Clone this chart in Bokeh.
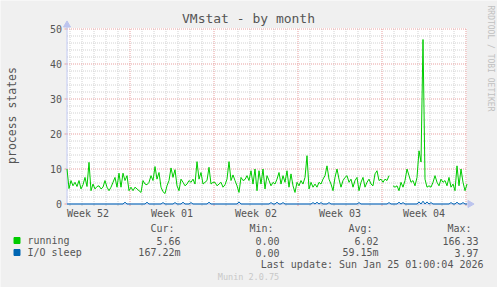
import math
from bokeh.plotting import figure
from bokeh.models import Range1d, BoxAnnotation, ColumnDataSource
from bokeh.core.properties import value
from bokeh.embed import file_html
from bokeh.resources import INLINE

# ---- data (sampled every 4 hours, days since Mon 22 Dec 2025) ----
start_day = 1.75
step_day = 1.0 / 6.0
running = [
    10.0, 4.4, 6.7, 5.2, 6.2, 5.0, 6.7, 4.3, 5.5, 7.6,
    5.0, 11.9, 3.8, 5.7, 4.3, 5.0, 5.2, 4.3, 4.8, 6.7,
    4.8, 3.8, 4.8, 6.2, 7.6, 4.8, 8.8, 4.8, 8.8, 6.7,
    8.1, 3.8, 4.8, 3.8, 4.8, 4.3, 3.8, 3.3, 6.7, 5.7,
    5.5, 6.2, 8.1, 6.7, 10.7, 7.1, 9.0, 4.8, 3.5, 3.0,
    5.2, 6.7, 10.3, 7.6, 9.8, 5.2, 3.8, 7.1, 6.2, 5.2,
    5.7, 6.7, 6.2, 7.1, 5.7, 12.1, 7.1, 9.0, 5.7, 6.2,
    6.7, 10.5, 5.7, 6.2, 6.2, 5.2, 5.7, 6.2, 4.8, 5.5,
    7.1, 12.1, 6.7, 8.3, 6.7, 5.2, 3.3, 7.6, 6.7, 7.0,
    8.1, 6.7, 9.5, 5.7, 10.0, 3.8, 9.5, 5.7, 10.0, 4.3,
    8.1, 6.7, 5.2, 6.2, 5.7, 7.1, 9.0, 5.7, 8.1, 6.2,
    9.5, 4.8, 8.6, 5.2, 3.3, 6.2, 5.2, 6.7, 5.7, 7.6,
    13.8, 4.3, 6.2, 4.8, 5.7, 4.8, 6.2, 5.7, 7.1, 8.1,
    10.9, 7.1, 5.7, 3.8, 7.6, 10.0, 7.1, 4.8, 6.7, 7.6,
    8.1, 6.2, 7.1, 4.8, 6.7, 7.6, 3.8, 6.2, 7.6, 4.8,
    6.2, 7.1, 5.7, 5.2, 8.6, 9.5, 6.7, 7.1, 6.2, 7.1,
    6.7, 8.1, float("nan"), 5.2, 4.8, 5.2, 3.8, 6.2, 4.8, 6.7,
    10.0, 8.1, 6.2, 6.7, 5.2, 7.6, 15.2, 12.0, 47.0, 7.1,
    4.8, 5.2, 4.8, 6.2, 8.1, 6.2, 5.2, 7.1, 6.2, 6.7,
    5.2, 7.6, 4.8, 5.7, 3.8, 10.9, 5.2, 10.0, 6.2, 3.8,
    5.7,
]
io_sleep = [
    0, 0, 0, 0, 0, 0, 0, 0, 0, 0,
    0, 0, 0, 0, 0, 0, 0, 0, 0, 0,
    0, 0, 0, 0, 0, 0, 0, 0, 0, 0.5,
    0, 0, 0, 0, 0, 0, 0, 0, 0, 0,
    0.5, 0, 0, 0, 0, 0, 0, 0, 0.4, 0,
    0, 0, 0, 0, 0.4, 0, 0, 0, 0.5, 0,
    0, 0, 0.4, 0, 0, 0, 0, 0, 0, 0,
    0, 0.5, 0, 0, 0, 0, 0, 0, 0, 0,
    0, 0, 0, 0, 0, 0, 0.6, 0, 0, 0,
    0, 0, 0, 0, 0, 0, 0, 0, 0, 0,
    0, 0, 0.4, 0, 0, 0.5, 0, 0, 0.4, 0,
    0, 0, 0, 0, 0, 0, 0, 0, 0, 0,
    0, 0, 0, 0.4, 0, 0.5, 0, 0.4, 0, 0,
    0, 0.4, 0, 0, 0, 0, 0, 0, 0, 0,
    0, 0, 0, 0, 0, 0, 0.4, 0, 0, 0,
    0, 0, 0, 0, 0, 0, 0, 0, 0, 0,
    0, 0.4, 0, 0, 0, 0, 0.5, 0, 0.4, 0,
    0, 0, 0, 0, 0, 0, 0.6, 0, 0.8, 0,
    0.6, 0, 0.4, 0, 0, 0, 0, 0, 0, 0,
    0, 0, 0.4, 0, 0, 0.5, 0, 0, 0.4, 0,
    0,
]
days = [start_day + i * step_day for i in range(len(running))]

week_centers = [3.5, 10.5, 17.5, 24.5, 31.5]
week_labels = ["Week 52", "Week 01", "Week 02", "Week 03", "Week 04"]
week_starts = [7, 14, 21, 28, 35]
day_lines = [d for d in range(2, 36) if d % 7 != 0]
y_ticks = [0, 10, 20, 30, 40, 50]
y_minor = [v for v in range(2, 50, 2) if v % 10 != 0]

series_names = ["running", "I/O sleep"]
series_colors = ["#00CC00", "#0066B3"]
cur_vals = ["5.66", "167.22m"]
min_vals = ["0.00", "0.00"]
avg_vals = ["6.02", "59.15m"]
max_vals = ["166.33", "3.97"]

# ---- pixel helpers (for text / decoration placement only) ----
X0 = start_day
X1 = start_day + 400 / 12.0
Y0, Y1 = 0, 50


def dx(px):
    return X0 + (px - 66.5) / 12.0


def dy(py):
    return (203.5 - py) / 3.5


p = figure(width=497, height=287,
           x_range=Range1d(dx(0), dx(497)), y_range=Range1d(dy(287), dy(0)),
           x_axis_type=None, y_axis_type=None,
           output_backend="svg", toolbar_location=None, min_border=0,
           background_fill_color="#F0F0F0", border_fill_color="#F0F0F0",
           outline_line_color=None)

FONT = "DejaVu Sans Mono"
TXT = "#555555"
GRID = "#D2D2D2"
MGRID = "#E8A0A0"
AXIS = "#BCC4EE"

# plot area
p.add_layout(BoxAnnotation(left=dx(66), right=dx(466), bottom=dy(203.5), top=dy(27.5),
                           fill_color="white", fill_alpha=1.0, line_color=None,
                           level="underlay"))

# minor grid
p.segment(x0=X0, x1=X1, y0=y_minor, y1=y_minor, line_color=GRID, line_dash="1 1", line_width=1)
p.segment(x0=day_lines, x1=day_lines, y0=Y0, y1=Y1, line_color=GRID, line_dash="1 1", line_width=1)
# major grid
p.segment(x0=X0, x1=X1, y0=y_ticks[1:], y1=y_ticks[1:], line_color=MGRID, line_dash="1 1", line_width=1)
p.segment(x0=week_starts, x1=week_starts, y0=Y0, y1=Y1, line_color=MGRID, line_dash="1 1", line_width=1)

# tick marks
p.segment(x0=day_lines, x1=day_lines, y0=0, y1=dy(205.5), line_color="#C8C8C8", line_width=1)
p.segment(x0=week_starts, x1=week_starts, y0=0, y1=dy(205.5), line_color=MGRID, line_width=1)
p.segment(x0=dx(64), x1=X0, y0=y_ticks, y1=y_ticks, line_color=MGRID, line_width=1)

# axes lines
p.segment(x0=[X0], x1=[X0], y0=[0], y1=[dy(24)], line_color=AXIS, line_width=1)
p.segment(x0=[X0], x1=[dx(469)], y0=[0], y1=[0], line_color=AXIS, line_width=1)

# data
src = ColumnDataSource(dict(x=days, run=running, io=io_sleep))
p.line("x", "run", source=src, line_color=series_colors[0], line_width=1)
p.line("x", "io", source=src, line_color=series_colors[1], line_width=1)

# arrow heads
p.scatter(x=[X0], y=[dy(24.5)], marker="triangle", size=7, fill_color=AXIS, line_color=AXIS)
p.scatter(x=[dx(469.5)], y=[0], marker="triangle", angle=-math.pi / 2, size=7,
          fill_color=AXIS, line_color=AXIS)


def txt(xs, ys, texts, size="10px", color=TXT, align="left", angle=0.0, font=FONT):
    p.text(x=xs, y=ys, text=texts, text_font=value(font), text_font_size=value(size),
           text_color=color, text_align=align, text_baseline="middle", angle=angle)


# tick labels
txt([dx(61.5)] * len(y_ticks), y_ticks, [str(v) for v in y_ticks], align="right")
txt(week_centers, [dy(212.5)] * len(week_centers), week_labels, align="center")

# titles
txt([dx(248)], [dy(18)], ["VMstat - by month"], size="13px", align="center")
txt([dx(11)], [dy(115)], ["process states"], size="11.5px", align="center", angle=math.pi / 2)
txt([dx(490)], [dy(5)], ["RRDTOOL / TOBI OETIKER"], size="8px", color="#C0C0C0",
    angle=-math.pi / 2)

# legend
txt([dx(150), dx(249), dx(348), dx(447)], [dy(228)] * 4, ["Cur:", "Min:", "Avg:", "Max:"])
rows_y = [dy(240), dy(252)]
p.scatter(x=[dx(16.5)] * 2, y=rows_y, marker="square", size=6,
          fill_color=series_colors, line_color=series_colors)
txt([dx(27)] * 2, rows_y, series_names)
txt([dx(180)] * 2, rows_y, cur_vals, align="right")
txt([dx(279)] * 2, rows_y, min_vals, align="right")
txt([dx(378)] * 2, rows_y, avg_vals, align="right")
txt([dx(478)] * 2, rows_y, max_vals, align="right")
txt([dx(483)], [dy(264)], ["Last update: Sun Jan 25 01:00:04 2026"], align="right")
txt([dx(248)], [dy(276)], ["Munin 2.0.75"], size="8.5px", color="#C8C8C8", align="center")

open("out.html", "w").write(file_html(p, INLINE))
